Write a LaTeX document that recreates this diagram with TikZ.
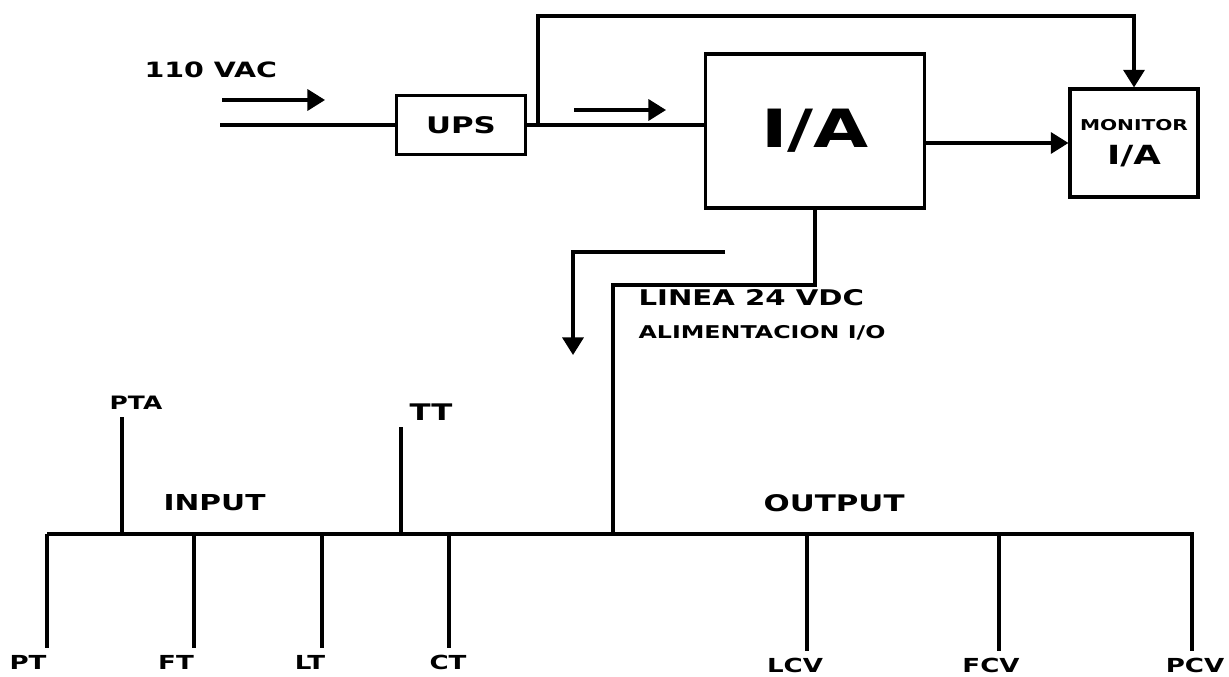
\documentclass[tikz,border=0pt]{standalone}
\usepackage{fontspec}
\setmainfont{DejaVu Sans}[FakeStretch=1.35]
\usetikzlibrary{arrows.meta,positioning}
\begin{document}
\begin{tikzpicture}[x=0.2mm,y=-0.2mm,line width=1.8pt,
  >={Triangle[length=10pt,width=12pt]},
  box/.style={draw,line width=1.8pt,inner sep=0pt},
  tag/.style={inner sep=3pt,font=\bfseries\fontsize{11}{11}\selectfont},
  note/.style={inner sep=0pt,anchor=west,font=\bfseries\fontsize{#1}{#1}\selectfont}]
\useasboundingbox (0,0) rectangle (1229,677);
\node [box,minimum width=25.8mm,minimum height=11.8mm,font=\bfseries\fontsize{13}{13}\selectfont] (ups) at (461,125) {UPS};
\node [box,minimum width=43.8mm,minimum height=30.8mm,font=\bfseries\fontsize{30}{30}\selectfont] (ia) at (815,131) {I/A};
\node [box,minimum width=25.6mm,minimum height=21.6mm,align=center,font=\bfseries\fontsize{8.5}{19}\selectfont] (mon) at (1134,143) {MONITOR\\{\fontsize{15}{15}\selectfont I/A}};
\node [note=12] (vac) at (143,70) {110 VAC};
\coordinate (vacS) at (222,100);
\coordinate (vacE) at (325,100);
\draw [->] (vacS) -- (vacE);
\coordinate (acin) at (220,125);
\draw (acin) -- (ups.west);
\draw (ups.east) -- (ups.east -| ia.west);
\coordinate (upstap) at (538,125);
\coordinate (toprail) at (0,16);
\draw [->] (upstap) |- (toprail -| mon.north) -- (mon.north);
\coordinate (flowS) at (574,110);
\coordinate (flowE) at (666,110);
\draw [->] (flowS) -- (flowE);
\draw [->] (ia.east |- mon.west) -- (mon.west);
\coordinate (busL) at (47,534);
\coordinate (busR) at (1194,534);
\draw (busL) -- (busR);
\coordinate (pwrbend) at (613,285);
\draw (ia.south) |- (pwrbend) -- (pwrbend |- busL);
\coordinate (hookS) at (725,252);
\coordinate (hookE) at (573,355);
\draw [->] (hookS) -| (hookE);
\node [note=12.3] (linea) at (637,298) {LINEA 24 VDC};
\node [note=10] (alim) at (637,333) {ALIMENTACION I/O};
\node [note=12.5] (input) at (162,503) {INPUT};
\node [note=13] (output) at (762,503) {OUTPUT};
\node [tag,font=\bfseries\fontsize{10.5}{10.5}\selectfont] (pta) at (136,403) {PTA};
\coordinate (tappta) at (122,534);
\draw (tappta) -- (tappta |- pta.south);
\node [tag,font=\bfseries\fontsize{13}{13}\selectfont] (tt) at (431,412) {TT};
\coordinate (taptt) at (401,534);
\draw (taptt) -- (taptt |- tt.south);
\node [tag] (pt) at (28,662) {PT};
\coordinate (tappt) at (47,534);
\draw (tappt) -- (tappt |- pt.north);
\node [tag] (ft) at (176,662) {FT};
\coordinate (tapft) at (194,534);
\draw (tapft) -- (tapft |- ft.north);
\node [tag] (lt) at (310,662) {LT};
\coordinate (taplt) at (322,534);
\draw (taplt) -- (taplt |- lt.north);
\node [tag] (ct) at (448,662) {CT};
\coordinate (tapct) at (449,534);
\draw (tapct) -- (tapct |- ct.north);
\node [tag] (lcv) at (795,665) {LCV};
\coordinate (taplcv) at (807,534);
\draw (taplcv) -- (taplcv |- lcv.north);
\node [tag] (fcv) at (991,665) {FCV};
\coordinate (tapfcv) at (999,534);
\draw (tapfcv) -- (tapfcv |- fcv.north);
\node [tag] (pcv) at (1195,665) {PCV};
\coordinate (tappcv) at (1192,534);
\draw (tappcv) -- (tappcv |- pcv.north);
\end{tikzpicture}
\end{document}
